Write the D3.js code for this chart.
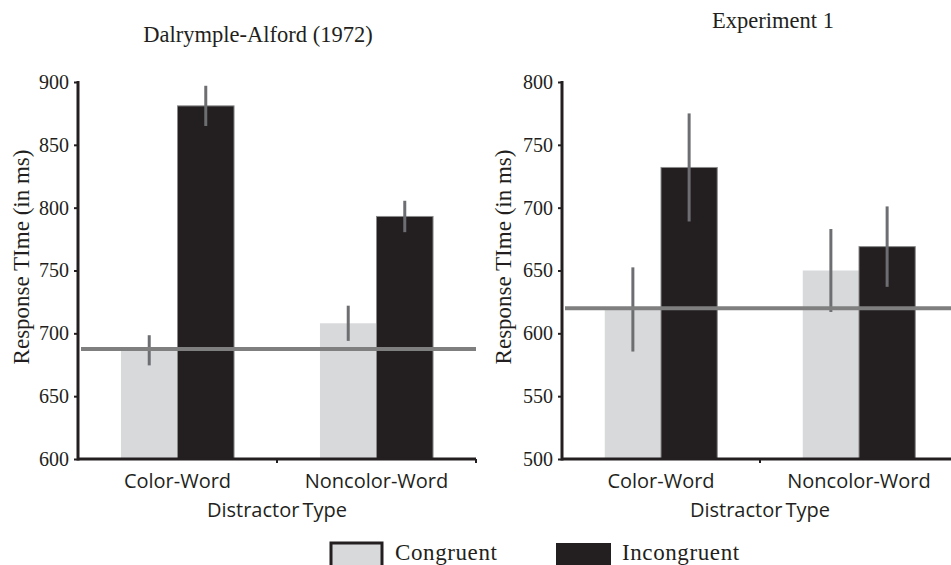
<!DOCTYPE html>
<html>
<head>
<meta charset="utf-8">
<script src="https://cdn.jsdelivr.net/npm/d3@7"></script>
<style>
  body { margin: 0; background: #fff; }
  svg { display: block; }
</style>
</head>
<body>
<div id="chart"></div>
<script>
const categories = ["Color-Word", "Noncolor-Word"];
const conditions = ["Congruent", "Incongruent"];

// Dalrymple-Alford (1972)
const dalCongruent = [686.5, 708];
const dalIncongruent = [881, 793];
const dalCongruentErr = [12, 14];
const dalIncongruentErr = [16, 12.5];
const dalBaseline = 687.5;
const dalTicks = [600, 650, 700, 750, 800, 850, 900];

// Experiment 1
const expCongruent = [619, 650];
const expIncongruent = [732, 669];
const expCongruentErr = [33.5, 33];
const expIncongruentErr = [43, 32];
const expBaseline = 620;
const expTicks = [500, 550, 600, 650, 700, 750, 800];

const colors = { Congruent: "#d8d9db", Incongruent: "#231f20" };
const ink = "#231f20";

const svg = d3.select("#chart")
    .append("svg")
    .attr("width", 951)
    .attr("height", 565);

function drawPanel(opt) {
    const g = svg.append("g");
    const y = d3.scaleLinear().domain(opt.domain).range([459, 82]);
    const x0 = d3.scaleBand().domain(categories).range([opt.left, opt.right]);
    const x1 = d3.scaleBand().domain(conditions)
        .range([0, x0.bandwidth()])
        .paddingOuter(0.76);

    const rows = categories.map((c, i) => ({
        cat: c,
        vals: [
            { cond: "Congruent", v: opt.congruent[i], e: opt.congruentErr[i] },
            { cond: "Incongruent", v: opt.incongruent[i], e: opt.incongruentErr[i] }
        ]
    }));

    // title
    g.append("text")
        .attr("x", opt.titleX)
        .attr("y", opt.titleY)
        .attr("text-anchor", "middle")
        .style("font-family", "'Liberation Serif', serif")
        .style("font-size", "22.5px")
        .style("fill", ink)
        .text(opt.title);

    // bars
    const grp = g.selectAll(".grp")
        .data(rows)
        .enter().append("g")
        .attr("class", "grp")
        .attr("transform", d => "translate(" + x0(d.cat) + ",0)");

    grp.selectAll("rect")
        .data(d => d.vals)
        .enter().append("rect")
        .attr("x", d => x1(d.cond))
        .attr("y", d => y(d.v))
        .attr("width", x1.bandwidth())
        .attr("height", d => y(opt.domain[0]) - y(d.v))
        .style("fill", d => colors[d.cond])
        .style("stroke", d => d.cond == "Incongruent" ? "#8a8a8a" : "none")
        .style("stroke-width", 1);

    // baseline reference line
    g.append("line")
        .attr("x1", opt.left + 3)
        .attr("x2", opt.lineEnd)
        .attr("y1", y(opt.baseline))
        .attr("y2", y(opt.baseline))
        .style("stroke", "#7f7f7f")
        .style("stroke-width", 4);

    // error bars
    grp.selectAll(".err")
        .data(d => d.vals)
        .enter().append("line")
        .attr("class", "err")
        .attr("x1", d => x1(d.cond) + x1.bandwidth() / 2)
        .attr("x2", d => x1(d.cond) + x1.bandwidth() / 2)
        .attr("y1", d => y(d.v + d.e))
        .attr("y2", d => y(d.v - d.e))
        .style("stroke", "#6d6e71")
        .style("stroke-width", 3);

    // y axis
    const yAxis = d3.axisLeft(y).tickValues(opt.ticks).tickSize(4).tickPadding(5);
    const ya = g.append("g")
        .attr("transform", "translate(" + opt.left + ",0)")
        .call(yAxis);
    ya.select(".domain").remove();
    ya.selectAll(".tick line").style("stroke", ink).style("stroke-width", 2);
    ya.selectAll(".tick text")
        .style("font-family", "'Liberation Serif', serif")
        .style("font-size", "20px")
        .style("fill", ink);

    g.append("line")
        .attr("x1", opt.left).attr("x2", opt.left)
        .attr("y1", y(opt.domain[1]) - 1).attr("y2", y(opt.domain[0]) + 1.5)
        .style("stroke", ink).style("stroke-width", 3);

    // x axis
    g.append("line")
        .attr("x1", opt.left).attr("x2", opt.right)
        .attr("y1", y(opt.domain[0])).attr("y2", y(opt.domain[0]))
        .style("stroke", ink).style("stroke-width", 3);

    g.selectAll(".xtick")
        .data(categories)
        .enter().append("line")
        .attr("class", "xtick")
        .attr("x1", d => x0(d) + x0.bandwidth())
        .attr("x2", d => x0(d) + x0.bandwidth())
        .attr("y1", y(opt.domain[0]))
        .attr("y2", y(opt.domain[0]) + 4)
        .style("stroke", ink).style("stroke-width", 2);

    g.selectAll(".xlabel")
        .data(categories)
        .enter().append("text")
        .attr("class", "xlabel")
        .attr("x", d => x0(d) + x0.bandwidth() / 2)
        .attr("y", 488)
        .attr("text-anchor", "middle")
        .style("font-family", "'Open Sans', sans-serif")
        .style("font-size", "20px")
        .style("fill", ink)
        .text(d => d);

    g.append("text")
        .attr("x", (opt.left + opt.right) / 2)
        .attr("y", 517)
        .attr("text-anchor", "middle")
        .style("font-family", "'Open Sans', sans-serif")
        .style("font-size", "20px")
        .style("word-spacing", "-2px")
        .style("fill", ink)
        .text("Distractor Type");

    // y label
    g.append("text")
        .attr("transform", "translate(" + opt.ylabelX + "," + opt.ylabelY + ") rotate(-90)")
        .attr("text-anchor", "middle")
        .style("font-family", "'Liberation Serif', serif")
        .style("font-size", "23px")
        .style("fill", ink)
        .text("Response TIme (in ms)");
}

drawPanel({
    title: "Dalrymple-Alford (1972)", titleX: 258, titleY: 42,
    domain: [600, 900], ticks: dalTicks,
    left: 78, right: 476, lineEnd: 476,
    congruent: dalCongruent, incongruent: dalIncongruent,
    congruentErr: dalCongruentErr, incongruentErr: dalIncongruentErr,
    baseline: dalBaseline, ylabelX: 29, ylabelY: 257
});

drawPanel({
    title: "Experiment 1", titleX: 773, titleY: 28,
    domain: [500, 800], ticks: expTicks,
    left: 562, right: 958, lineEnd: 951,
    congruent: expCongruent, incongruent: expIncongruent,
    congruentErr: expCongruentErr, incongruentErr: expIncongruentErr,
    baseline: expBaseline, ylabelX: 511, ylabelY: 257
});

// legend
const legend = svg.append("g");
const legendX = [331, 556];
const legendText = [395, 622];
conditions.forEach((c, i) => {
    legend.append("rect")
        .attr("x", legendX[i])
        .attr("y", 543)
        .attr("width", c == "Congruent" ? 51 : 55)
        .attr("height", 30)
        .style("fill", colors[c])
        .style("stroke", c == "Congruent" ? ink : "none")
        .style("stroke-width", 3);
    legend.append("text")
        .attr("x", legendText[i])
        .attr("y", 560)
        .style("font-family", "'Liberation Serif', serif")
        .style("font-size", "23px")
        .style("letter-spacing", "0.6px")
        .style("fill", ink)
        .text(c);
});
</script>
</body>
</html>
